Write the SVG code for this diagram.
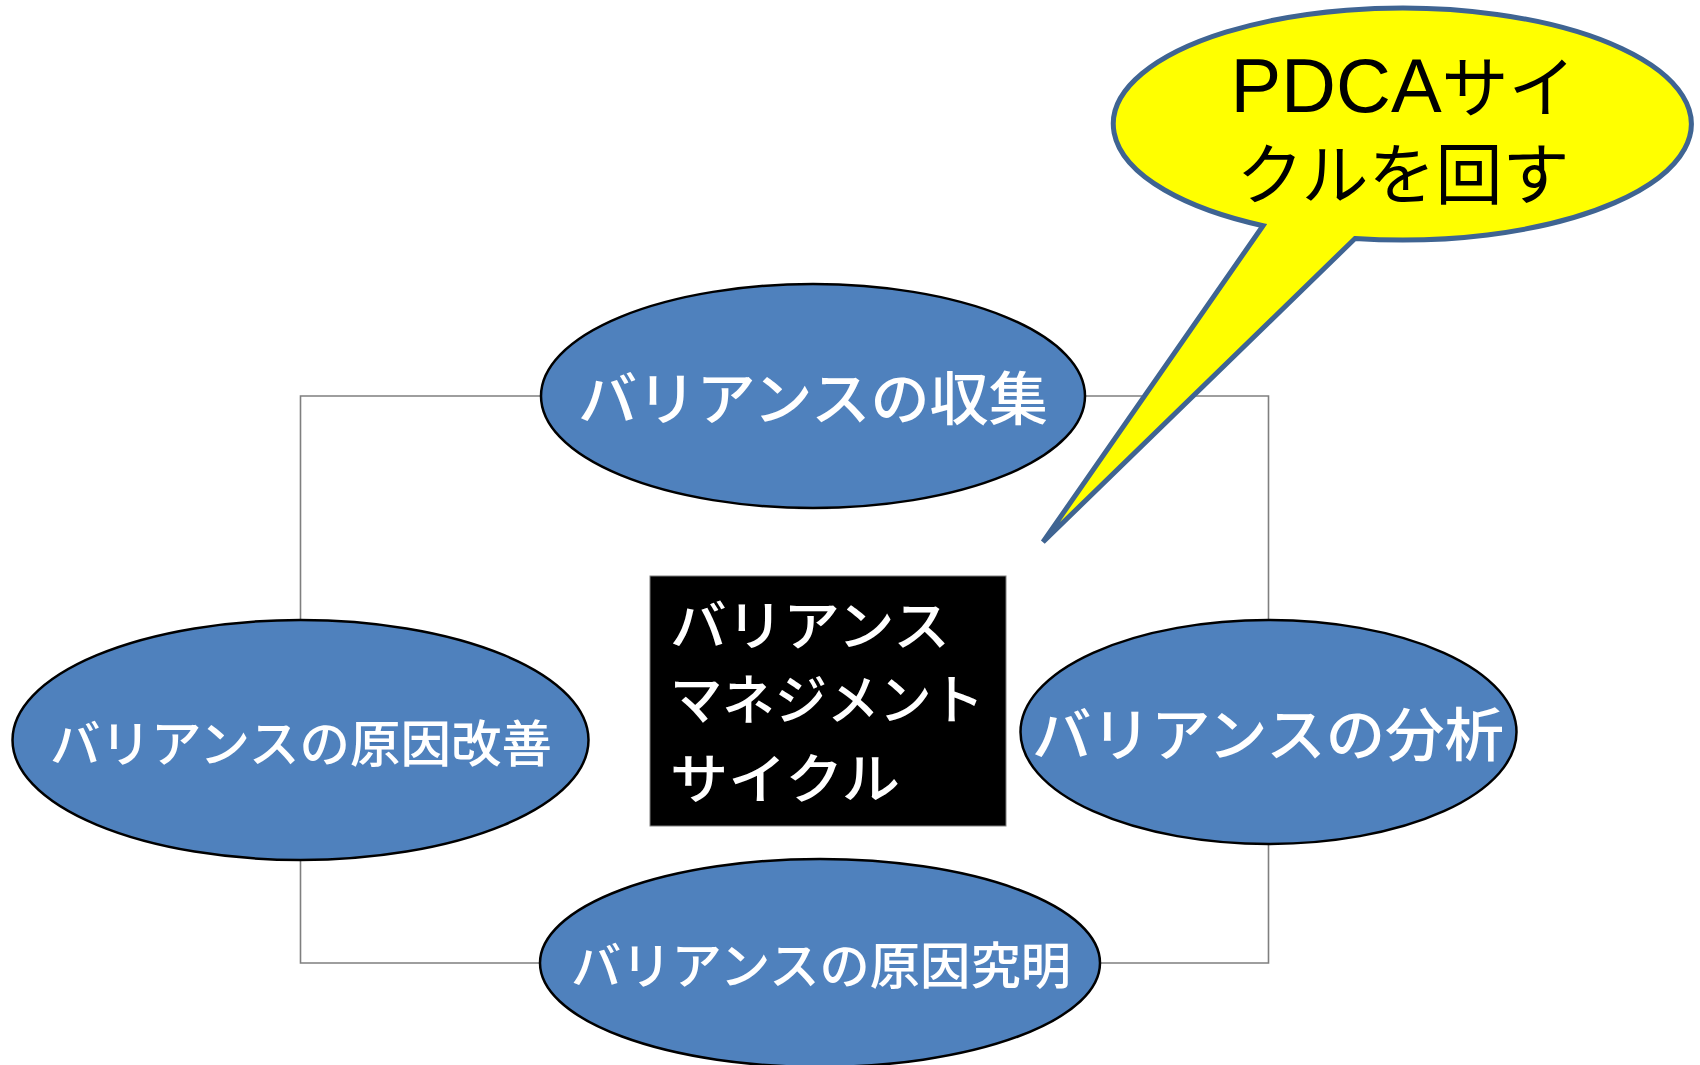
<svg xmlns="http://www.w3.org/2000/svg" width="1700" height="1065" viewBox="0 0 1700 1065">
<style>
.conn{fill:none;stroke:#7f7f7f;stroke-width:1.6}
.node{fill:#4f81bd;stroke:#000;stroke-width:2.5}
.lbl{font-family:"Noto Sans CJK JP","Liberation Sans",sans-serif;fill:#fff;text-anchor:middle;font-weight:500}
.box{font-family:"Noto Sans CJK JP","Liberation Sans",sans-serif;fill:#fff;font-size:54px;font-weight:500}
.call{font-family:"Liberation Sans","Noto Sans CJK JP",sans-serif;fill:#000;text-anchor:middle}
</style>
<rect width="1700" height="1065" fill="#fff"/>
<g id="connectors">
<polyline class="conn" points="541,396 300.5,396 300.5,620"/>
<polyline class="conn" points="300.5,860 300.5,963 540,963"/>
<polyline class="conn" points="1100,963 1268.5,963 1268.5,844"/>
<polyline class="conn" points="1268.5,620 1268.5,396 1085,396"/>
</g>
<g id="n-collect">
<ellipse class="node" cx="813" cy="396" rx="272" ry="112"/>
<text class="lbl" x="813" y="420" font-size="58" textLength="470" lengthAdjust="spacingAndGlyphs">バリアンスの収集</text>
</g>
<g id="n-improve">
<ellipse class="node" cx="300.5" cy="740" rx="288" ry="120"/>
<text class="lbl" x="301" y="762" font-size="50" textLength="502" lengthAdjust="spacingAndGlyphs">バリアンスの原因改善</text>
</g>
<g id="n-analyze">
<ellipse class="node" cx="1268.5" cy="732" rx="248" ry="112"/>
<text class="lbl" x="1268" y="756" font-size="58" textLength="472" lengthAdjust="spacingAndGlyphs">バリアンスの分析</text>
</g>
<g id="n-investigate">
<ellipse class="node" cx="820" cy="963" rx="280" ry="104"/>
<text class="lbl" x="821" y="984" font-size="50" textLength="500" lengthAdjust="spacingAndGlyphs">バリアンスの原因究明</text>
</g>
<g id="n-center">
<rect x="650" y="576" width="356" height="250" fill="#000" stroke="#7f7f7f" stroke-width="1"/>
<text class="box" x="670" y="646" textLength="280" lengthAdjust="spacingAndGlyphs">バリアンス</text>
<text class="box" x="670" y="720" textLength="314" lengthAdjust="spacingAndGlyphs">マネジメント</text>
<text class="box" x="670" y="799" textLength="230" lengthAdjust="spacingAndGlyphs">サイクル</text>
</g>
<g id="callout">
<path d="M 1263 225.7 L 1043 542 L 1355 238.5 A 289 116 0 1 0 1263 225.7 Z" fill="#ffff00" stroke="#3f6492" stroke-width="5" stroke-linejoin="miter"/>
<text class="call" x="1403" y="112"><tspan font-size="76">PDCA</tspan><tspan font-size="67" font-family="Noto Sans CJK JP, sans-serif">サイ</tspan></text>
<text class="call" x="1403" y="199" font-size="67" font-family="Noto Sans CJK JP, sans-serif">クルを回す</text>
</g>
</svg>
